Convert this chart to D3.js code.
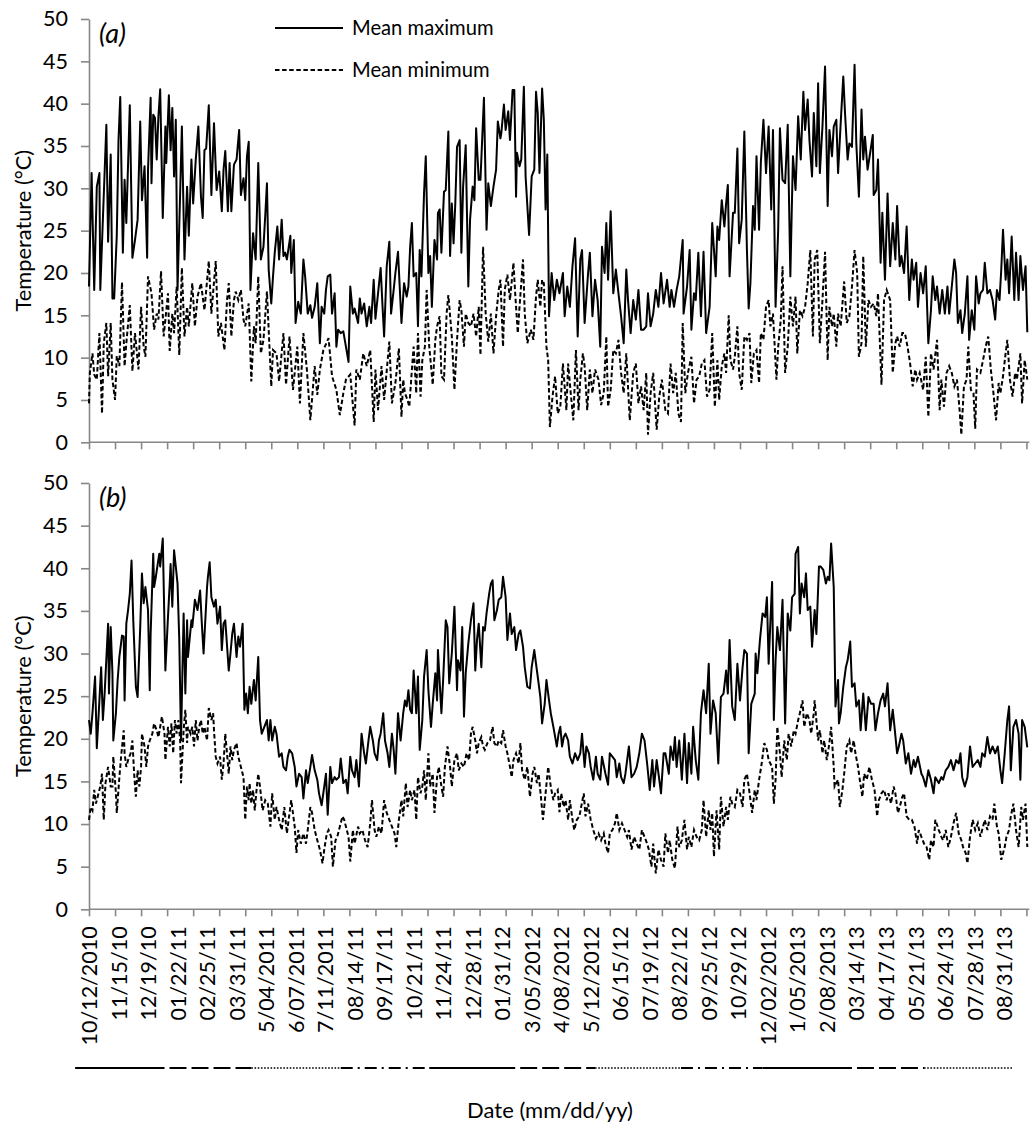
<!DOCTYPE html>
<html>
<head>
<meta charset="utf-8">
<script src="https://cdn.jsdelivr.net/npm/d3@7"></script>
<style>
  body { margin: 0; background: #fff; }
  svg text { font-family: Lato, "Open Sans", sans-serif; fill: #000; }
</style>
</head>
<body>
<svg id="chart" width="1030" height="1128"></svg>
<script>
// day offsets counted from 10/12/2010, values in deg C
const maxA = [[0,18.4],[3,31.8],[6,18],[9,30.2],[12,31.8],[13,18],[20,37.5],[22,23.7],[25,34],[27,17],[29,17],[32,24.4],[34,35.7],[36,40.8],[39,22.4],[41,31],[43,25.9],[47,39.8],[50,21.8],[53,23.9],[56,26.3],[59,37.9],[61,28.6],[64,32.6],[67,21.8],[68,32.2],[71,40.7],[72,30.6],[74,38.7],[76,38.3],[78,33.4],[80,38.5],[82,41.7],[85,26.5],[88,37.3],[89,33],[92,41],[94,34.5],[96,39.5],[98,31.4],[100,38.1],[102,18],[105,29.4],[107,37.3],[110,21.6],[113,30.2],[115,24.4],[118,33.4],[120,28.2],[123,33.4],[126,37.3],[129,29],[131,26.5],[133,34.5],[135,34.7],[138,39.8],[141,29.2],[144,37.7],[147,29.8],[150,32],[153,27.3],[155,32.2],[157,34.4],[160,27.3],[162,33],[164,27.3],[167,32.8],[170,33.4],[173,36.9],[175,29.2],[178,31.2],[180,28.6],[182,33.8],[184,35.5],[186,18],[189,24.7],[192,21.6],[195,33],[198,21.6],[201,23.1],[203,26.7],[205,30.6],[207,20.4],[210,16.4],[212,19.6],[214,22.4],[217,25.5],[219,21.6],[222,26.3],[224,22],[226,22.4],[228,21.6],[232,24.4],[233,20],[236,23.9],[238,14.1],[241,16.6],[244,15.2],[247,21.6],[249,19.6],[252,15.2],[255,16.2],[257,14.7],[260,16],[263,18.8],[266,11.7],[268,16],[271,15.2],[273,18],[275,19.6],[278,19.8],[280,15.2],[283,17.6],[285,11.3],[287,13.3],[290,12.9],[293,13.1],[296,11.3],[299,9.5],[301,18.4],[304,15.2],[306,15.8],[310,14.1],[312,17],[314,15.2],[317,16.4],[320,13.7],[323,16],[325,14.1],[328,19.2],[330,14.6],[333,17.6],[336,20.6],[338,16.4],[340,12.5],[343,20.8],[346,23.7],[348,15.2],[351,18],[353,20],[356,22.5],
  [360,14.1],[363,18.8],[366,17.2],[368,18.4],[370,23.1],[372,25.9],[374,19.6],[377,20],[379,13.7],[381,22.7],[383,19.6],[386,29.4],[388,33.8],[391,20],[393,22],[395,16],[398,23.9],[401,21.6],[402,27.1],[404,27.5],[406,22.4],[409,29.6],[411,29.8],[414,36.7],[416,22],[418,28.2],[420,23.5],[422,28.2],[424,34.9],[427,35.7],[429,22.4],[431,30.2],[434,35.1],[437,18.4],[439,26.3],[442,30.2],[444,28.6],[446,37.1],[449,31],[451,31],[455,40.7],[458,25.1],[460,30.6],[463,27.9],[466,30.2],[469,32.2],[471,37.9],[474,35.9],[475,36.5],[478,39.9],[480,36.9],[483,39.1],[485,35.7],[488,41.6],[490,41.6],[492,29],[493,34.2],[496,32.6],[498,33.4],[501,42],[503,31.4],[507,24.5],[510,31.4],[513,32.2],[515,41.4],[517,38.9],[519,31.8],[522,41.8],[524,38.1],[526,27.5],[528,34],[530,14.9],[533,20],[536,16.8],[539,19.2],[542,17.6],[546,20],[548,14.9],[551,18.4],[554,16],[557,20.8],[560,24.1],[563,12.5],[566,21.6],[568,22.7],[571,14.1],[575,20],[577,22.4],[580,14.9],[583,19.2],[586,16.8],[589,11.3],[591,23.1],[594,20],[596,25.9],[598,19.2],[601,27.3],[604,17.6],[607,20.4],[610,17.6],[613,14.9],[616,11.7],[619,20.4],[621,16.8],[624,12.9],[627,16.8],[630,14.5],[633,18],[636,13.3],[639,13.3],[642,13.7],[644,17.6],[647,13.7],[650,15.2],[653,18],[656,16],[659,20],[662,16.4],[666,19.2],[669,16],[671,18],[674,16],[677,18],[680,19.6],[684,23.9],[685,15.2],[689,18.4],[692,22.7],[694,13.3],[697,17.6],[699,16.8],[702,22.4],[705,14.9],[708,22.5],[711,12.9],
  [715,16],[718,25.9],[722,19.6],[724,25.5],[726,23.9],[729,28.6],[732,25.5],[734,28.2],[736,30.4],[738,19.6],[742,27.1],[744,27.1],[747,34.7],[749,23.5],[752,26.3],[755,36.7],[758,22.7],[760,15.8],[762,18.8],[765,27.9],[767,25.1],[769,33.8],[772,25.1],[774,33],[777,38.1],[780,31.8],[783,37.3],[786,27.5],[788,36.9],[791,16],[794,25.1],[796,37.1],[799,31],[802,30.6],[805,37.5],[808,19.6],[811,33.8],[814,29.8],[817,38.5],[820,33.4],[823,41.4],[825,36.9],[828,40.5],[830,35.7],[833,31.4],[835,38.9],[838,32.6],[840,42.4],[842,31.8],[845,37.3],[848,44.4],[851,27.9],[853,36.9],[856,33.8],[858,37.3],[861,38.1],[863,31.8],[866,37.7],[869,43.2],[871,38.9],[874,33.4],[876,35.3],[879,34.9],[882,44.6],[884,35.3],[887,29],[890,39.3],[892,33.4],[894,36.1],[897,32.2],[900,34.2],[903,36.3],[904,29.2],[907,29.8],[909,33.4],[912,21.2],[914,27.1],[917,19.2],[920,29.4],[923,20.8],[926,25.9],[929,21.6],[931,27.9],[934,20.8],[936,22],[939,20],[942,25.5],[945,16.8],[948,21.6],[950,19.2],[953,21.2],[955,16],[958,20],[961,17.6],[964,20.8],[967,11.7],[970,15.6],[972,19.6],[975,16.8],[977,18.4],[980,15.2],[983,18],[986,15.2],[989,18.4],[991,15.2],[994,18.4],[997,21.6],[999,20],[1001,14.1],[1004,15.6],[1006,12.9],[1009,15.2],[1012,19.6],[1014,12.1],[1017,15.6],[1020,13.3],[1022,19.6],[1025,16.4],[1027,17.6],[1030,18],[1032,21.2],[1035,17.6],[1038,18],[1041,16.8],[1044,14.5],[1046,18],[1049,16.8],[1051,20.4],[1053,25.1],[1056,19.2],[1058,21.6],[1060,17.6],[1063,24.3],[1066,16.8],[1068,22.4],[1071,16.8],[1073,22],[1076,18],[1079,20.8],[1081,13]];

const minA = [[0,4.6],[1,8.2],[4,10.5],[6,8],[9,7.4],[12,12.9],[15,3.4],[17,11.7],[20,14.1],[22,7.8],[25,14.1],[27,7.4],[30,5],[32,10.2],[35,9],[38,18.9],[41,9],[43,11.7],[47,16.2],[50,8.4],[53,12.9],[57,8.6],[60,16],[63,11.3],[65,10.1],[68,19.6],[72,17.6],[75,13.3],[78,15.2],[80,14.5],[83,20.2],[86,12.5],[88,14.5],[91,17.6],[93,10.8],[96,15.2],[98,12.9],[101,18.4],[104,10.3],[107,20.6],[110,12.5],[113,16],[115,13.7],[119,18.8],[122,13.7],[125,17.2],[129,18.8],[133,15.6],[138,21.4],[141,15.2],[146,21.4],[149,12.5],[152,14.1],[156,10.9],[159,16.8],[161,18.8],[164,12.5],[167,16.8],[169,17.8],[172,16.8],[175,18],[178,14.5],[180,13.7],[184,16.4],[187,7.2],[190,13.7],[192,11.7],[195,19.6],[198,10.5],[201,12.1],[205,17.8],[210,6.6],[212,10.9],[216,10.5],[219,7.2],[224,12.9],[227,6.8],[231,12.5],[235,6.2],[240,11.3],[243,4.6],[247,12.9],[251,8.6],[255,2.6],[260,9],[263,5.6],[266,8.6],[270,10.9],[276,12.3],[280,7.8],[285,6.2],[289,3.2],[293,5.8],[296,7.4],[301,8],[306,2],[308,8.6],[312,7.4],[316,10.5],[320,9],[324,10.9],[328,2.4],[330,8.6],[333,3.8],[337,9],[340,5],[346,11.9],[349,4.6],[353,7],[357,11.1],
  [360,3],[362,7.4],[364,5.8],[367,5],[369,4.2],[372,8.6],[374,11.3],[377,5.8],[379,12.9],[382,5.4],[384,9.7],[387,11.3],[389,18],[392,11.3],[396,6.8],[399,12.1],[401,13.7],[404,14.9],[406,7.8],[409,7.4],[412,15.2],[414,17.4],[418,12.5],[421,6.2],[424,12.1],[427,16.8],[429,15.6],[432,11.3],[434,15.2],[437,14.1],[440,13.7],[443,15.2],[446,12.5],[449,16],[451,10.3],[454,23.1],[457,15.2],[460,11.9],[463,15.2],[466,10.5],[469,14.9],[472,18],[474,19.2],[477,11.3],[479,18],[482,19.8],[485,16.8],[489,21.2],[491,17.6],[494,12.9],[496,16],[500,21.6],[502,15.2],[505,11.7],[509,13.3],[512,12.1],[515,17.2],[517,19.2],[520,16],[522,19.2],[524,18.8],[527,11.3],[529,9.7],[531,1.8],[534,5.4],[537,7.8],[540,3.4],[543,4.2],[546,9.3],[550,3.8],[552,9.3],[555,5.8],[558,2.6],[561,10.9],[564,3.8],[566,7.4],[569,10.5],[571,9],[574,3.8],[577,8.6],[580,5.8],[583,8.6],[587,7.4],[590,4.4],[593,5.8],[596,12.5],[598,4.2],[601,6.2],[604,10.9],[607,10.5],[610,12.1],[613,8.2],[616,5.8],[619,10.5],[623,2.6],[627,8.2],[630,9.3],[633,4.6],[636,6.6],[639,3.8],[642,8.2],[644,0.9],[647,5.8],[650,8.2],[654,1.5],[657,5.4],[660,7.4],[664,3.8],[667,3.4],[670,9.3],[673,5.8],[676,8.2],[679,3.4],[682,2.4],[684,14.1],[687,5.8],[690,8.2],[694,10.1],[697,4.6],[700,7.4],[703,7.8],[706,9.3],[709,9.7],[712,5.4],
  [715,6.2],[718,12.9],[721,4.2],[724,9.7],[726,5],[729,9],[732,10.5],[734,8.2],[737,15],[739,9.7],[742,8.6],[744,10.1],[747,13.7],[749,8.2],[752,6.2],[755,12.5],[758,12.1],[761,12.9],[763,7],[766,10.5],[769,10.9],[772,7],[774,12.9],[777,12.1],[780,16],[783,16.8],[785,13.7],[788,15.2],[792,7.4],[794,11.3],[797,14.5],[799,20.8],[802,8.2],[805,11.3],[808,17.2],[811,13.7],[814,17.2],[816,10.5],[819,15.6],[822,14.9],[825,16],[828,18.8],[831,22.7],[834,12.5],[836,21.6],[839,22.7],[842,11.7],[845,16.8],[848,22.5],[851,9.7],[853,16],[856,13.7],[858,15.2],[861,11.3],[863,15.2],[866,13.7],[870,19],[873,14.1],[876,14.9],[879,18.4],[882,22.7],[885,20],[887,10.1],[890,11.7],[892,22],[895,11.3],[898,16.8],[901,16],[904,16.4],[907,14.9],[909,17.6],[913,6.8],[916,16.8],[919,18],[923,16.8],[926,8.2],[929,11.7],[931,12.5],[934,11.3],[937,12.9],[940,12.9],[943,11.3],[946,9.3],[949,6.6],[952,8.6],[954,7.4],[957,8.2],[961,6.2],[964,10.1],[967,3],[970,10.5],[973,8.6],[977,12.1],[980,3.8],[982,7.4],[985,4.2],[988,8.2],[991,9],[994,8.2],[997,6.6],[1000,7.4],[1003,3.8],[1005,0.9],[1008,6.6],[1011,7.4],[1013,11.3],[1016,6.2],[1019,5.8],[1021,1.6],[1023,8.6],[1027,8.2],[1030,9.7],[1033,11.3],[1036,12.5],[1039,8.6],[1042,5.8],[1045,2.6],[1048,7],[1050,5.8],[1053,7.8],[1056,10.5],[1058,12.1],[1061,7.4],[1064,5.4],[1067,8.2],[1069,7.4],[1073,10.5],[1075,4.6],[1078,9.7],[1081,7.4]];

const maxB = [[0,22.2],[2,20.6],[4,23],[7,27.3],[9,18.9],[12,24.5],[14,28.4],[16,22.2],[18,25.3],[22,33.5],[23,25.3],[25,33.1],[27,27.7],[28,19.8],[31,23],[33,26.9],[35,29.6],[38,32.1],[40,32],[41,24.5],[43,33.5],[45,35.1],[47,37],[49,40.9],[51,33.9],[54,26.1],[56,24.9],[59,33.1],[61,39.4],[63,35.9],[65,37.8],[68,35.1],[70,25.7],[71,32.3],[74,41.7],[75,37.8],[77,39],[79,40.4],[81,41.7],[82,40.2],[85,43.5],[87,33.1],[88,28],[91,34.3],[93,38.2],[94,40.5],[96,35.5],[98,42.1],[100,40.2],[102,38.2],[104,31.6],[106,19.8],[109,34.7],[111,25.3],[113,33.9],[114,29.6],[118,33.9],[119,33.1],[122,36.3],[125,35.1],[128,37.4],[130,33.5],[132,30],[136,37.8],[137,39],[139,40.7],[141,36.6],[144,35.5],[146,36.3],[148,33.5],[151,35.5],[153,30.4],[155,33.5],[157,33.9],[161,28],[163,30],[165,32.3],[167,33.5],[170,29.6],[172,32],[174,30.8],[177,33.5],[179,23.4],[181,25.3],[183,23],[185,26.1],[187,24.1],[190,26.9],[192,24.5],[195,29.6],[197,22.2],[199,20.6],[202,21.4],[205,22.2],[207,19.8],[209,22.2],[211,19.8],[214,21.4],[216,20.6],[219,17.9],[222,18.3],[224,16.7],[227,16.3],[229,17.9],[231,18.7],[234,18.3],[237,16.7],[239,14.4],[242,15.9],[245,15.5],[247,13],[250,16.3],[252,14.8],[255,16.7],[257,18.1],[260,16.3],[263,15.2],[265,13.6],[268,12.2],[271,14.4],[273,15.9],[275,11.1],[278,16.7],[280,14.8],[283,15.5],[285,15.2],[288,15.5],[290,17.7],[293,14.8],[296,15.2],[298,13.6],[301,17.9],[303,16.3],[306,15.5],[308,17.5],[311,14.4],[314,20.6],[317,18.3],[319,17.1],[322,19.8],[324,21.4],[327,19.8],[329,18.3],[332,17.5],[334,19.8],[336,20.6],[339,23],[341,19.8],[344,18.3],[346,16.7],[349,20.6],[351,18.7],[353,15.9],[356,23],[359,19.8],[362,23],[364,24.5],[366,23.8],[368,25.7],[370,23.4],[372,23],[374,28],[376,24.9],[377,23],[379,27.3],[381,18.7],[384,22.2],[386,27.3],[389,30.4],[391,25.7],[394,21.4],[396,24.1],[399,27.7],[401,24.5],[402,30.4],[406,23],[408,26.9],[411,33.9],[413,33.1],[415,26.5],[418,30],[421,35.5],[424,25.7],[425,29.2],[428,28],[430,33.1],[432,22.6],[434,27.7],[437,31.2],[440,33.9],[443,35.9],[445,28],[447,31.6],[449,33.5],[452,28.4],[454,33.1],[456,32.7],[458,34.7],[461,37],[463,38.2],[465,38.6],[467,33.9],[470,35.1],[472,36.3],[475,36.6],[477,39],[480,36.6],[482,31.6],[485,34.7],[487,32.3],[490,33.1],[492,30.4],[495,32.3],[497,32.7],[500,30.8],[502,28.4],[505,26.1],[508,25.9],[510,28.4],[513,30.4],[515,28.8],[518,26.5],[520,24.9],[522,21.8],[525,24.1],[527,26.9],[530,24.5],[532,23],[535,21.4],
  [539,19.1],[541,20.6],[543,21.4],[545,19.1],[547,20.2],[549,20.6],[552,19.8],[554,17.9],[557,17.1],[560,18.3],[563,17.5],[566,18.3],[568,20.6],[571,16.7],[573,19.1],[576,18.3],[578,16.7],[581,15.2],[584,17.9],[586,15.9],[589,15.2],[591,17.9],[595,15.9],[598,14.6],[600,18.3],[603,17.9],[606,17.5],[608,15.5],[611,17.1],[613,15.5],[616,14.8],[618,15.9],[622,19.1],[625,15.5],[628,15.9],[631,16.7],[634,18.3],[637,20.6],[640,19.8],[643,17.1],[646,14],[649,17.5],[651,14.4],[654,17.5],[657,15.2],[659,13.6],[662,18.3],[664,18.3],[668,15.9],[670,19.1],[673,17.5],[675,20.2],[677,16.7],[680,19.8],[683,15.2],[686,20.6],[689,14.8],[691,19.5],[694,15.9],[696,21.4],[699,17.5],[702,15.2],[705,23],[708,25.7],[711,23],[714,28.8],[716,20.6],[719,24.5],[722,23],[725,17.1],[728,24.9],[731,25.3],[734,28],[736,25.3],[738,31.6],[741,23.8],[744,22.2],[747,28.8],[750,24.5],[753,28.4],[755,30.4],[758,30],[760,18.3],[763,24.1],[767,25.3],[768,30],[770,27.7],[773,31.6],[776,34.7],[779,34.3],[781,36.6],[783,28.8],[787,38.4],[789,22.2],[791,29.2],[793,33.1],[796,30.4],[799,36.3],[802,21.8],[805,34.7],[808,32.7],[810,36.6],[813,37],[814,41.7],[817,42.5],[819,34.7],[821,38.2],[824,36.6],[826,39.4],[828,35.1],[831,35.5],[833,30.8],[836,35.1],[838,32.3],[841,40.2],[843,40.2],[846,39.8],[849,38.2],[851,39],[853,38.6],[855,42.9],[858,37.8],[860,23.8],[863,26.9],[864,21.8],[866,23],[869,26.1],[872,28.4],[874,29.2],[877,31.4],[879,26.1],[882,26.5],[884,23.8],[887,24.5],[889,21],[892,25.3],[895,21],[898,24.9],[901,24.1],[904,24.1],[906,21],[909,23],[912,24.5],[915,25.3],[917,23.8],[920,26.5],[923,21],[926,23.4],[928,21.4],[931,18.3],[933,19.1],[936,20.6],[938,19.8],[941,17.1],[944,18.3],[947,15.9],[950,17.5],[952,16.7],[955,17.9],[959,15.9],[961,15.5],[964,14.4],[967,16.3],[970,15.2],[973,13.6],[975,15.5],[979,14.8],[982,15.5],[984,15.2],[987,16.3],[990,16.7],[993,17.5],[996,16.3],[999,17.5],[1002,17.1],[1004,18.3],[1006,15.5],[1009,14.4],[1012,15.5],[1015,19.1],[1018,16.7],[1021,17.1],[1024,17.5],[1027,16.7],[1029,18.3],[1032,17.9],[1035,20.2],[1038,18.3],[1041,19.1],[1044,18.3],[1047,19.1],[1050,16.3],[1052,14.8],[1055,18.3],[1058,22.2],[1060,23.8],[1062,16.3],[1065,21.4],[1068,22.2],[1071,20.6],[1073,15.2],[1075,22.2],[1078,21.4],[1081,19]];

const minB = [[0,10.5],[2,12],[4,11.6],[6,14],[8,12.4],[11,13.6],[13,14.4],[15,15.9],[17,10.5],[19,14.8],[22,16.7],[25,14.4],[27,14.4],[28,17.9],[31,13.6],[32,11.3],[35,15.5],[37,17.9],[40,21],[41,18.3],[43,16.7],[45,17.5],[48,18.3],[50,19.8],[52,15.9],[54,13.2],[56,16.3],[58,14.4],[60,16.7],[61,20.6],[64,19.1],[66,16.7],[68,19.1],[70,19.8],[73,20.6],[75,21.8],[78,21],[80,20.2],[82,21.4],[84,22.6],[87,20.6],[88,17.5],[91,21.4],[93,19.1],[95,21.8],[97,18.3],[99,22.2],[101,20.6],[103,22.2],[105,19.8],[106,14.8],[109,21],[111,23.4],[113,19.5],[114,21.4],[117,20.6],[119,21.4],[121,19.1],[123,22.2],[125,19.8],[127,21.4],[129,22.2],[131,20.6],[133,21.4],[136,19.8],[138,23.6],[141,22.2],[143,23],[144,21],[146,17.9],[148,17.1],[151,17.9],[153,15.2],[155,17.1],[157,20.6],[159,18.3],[161,15.9],[163,19.1],[165,17.5],[167,18.7],[170,19.5],[172,17.9],[175,16.7],[178,15.5],[180,10.5],[182,14.4],[184,12.8],[185,14.8],[187,12.4],[189,14],[191,11.6],[193,14],[195,15.9],[197,14.4],[200,11.6],[203,12.8],[206,12.4],[209,9.7],[211,13.6],[214,10.5],[216,12],[219,10.5],[222,9.3],[225,12],[228,8.9],[230,10.5],[233,12.8],[237,9.7],[239,6.6],[241,9.3],[244,7.7],[247,8.9],[250,7.7],[252,9.3],[255,12],[257,11.3],[260,9.3],[263,8.1],[266,7],[269,5.4],[271,7],[274,8.9],[276,9.3],[279,8.5],[281,5],[284,8.1],[286,8.5],[289,9.7],[292,10.9],[294,10.5],[297,9.3],[299,8.5],[301,5.6],[304,9.3],[306,7.7],[310,9.7],[312,8.9],[315,9.3],[318,8.1],[321,7.3],[324,10.1],[326,12.8],[329,9.3],[331,8.5],[334,9.7],[337,8.9],[340,12.8],[343,11.3],[346,10.5],[349,9.7],[352,8.9],[354,7.3],[357,10.5],[360,12.8],[362,10.9],[365,14.8],[367,12],[370,14],[372,12.8],[375,14],[377,10.5],[379,15.5],[382,13.6],[384,14.4],[386,16.3],[388,12.8],[391,18.3],[393,14.4],[396,15.9],[398,11.3],[401,15.5],[403,16.7],[406,14.4],[408,13.2],[410,16.7],[413,19.1],[416,16.7],[418,14.4],[421,17.5],[424,18.3],[426,16.3],[429,17.1],[432,16.7],[435,18.3],[438,17.5],[440,20.6],[442,21.4],[445,19.8],[447,18.3],[449,19.5],[452,20.2],[454,19.1],[456,18.7],[459,19.5],[462,19.8],[465,21.4],[467,19.5],[470,19.1],[472,19.8],[475,19.5],[477,21],[480,19.1],[482,18.3],[485,16.7],[487,15.5],[489,17.5],[492,18.3],[495,17.1],[497,19.5],[499,16.3],[502,15.2],[505,16.7],[508,13.2],[511,15.9],[513,16.7],[516,14.8],[518,15.9],[521,12.8],[523,10.5],[526,13.6],[529,16.7],[532,14.4],[535,12.8],
  [537,13.6],[540,14],[542,11.4],[544,13.6],[547,12],[549,12.8],[552,10.5],[554,12.8],[557,10.5],[559,9.3],[562,10.5],[565,10.9],[567,12],[570,13.6],[572,10.9],[575,12.4],[578,10.5],[581,9.3],[584,8.3],[587,8.9],[590,8.1],[593,8.9],[595,7.7],[598,6.6],[600,8.9],[603,9.3],[606,10.1],[608,11.3],[611,9.3],[614,10.1],[617,9.3],[620,8.5],[622,9.3],[625,7],[628,8.5],[631,7.7],[634,7],[637,9.3],[640,8.5],[643,7.7],[645,7],[648,5],[650,7.7],[653,4.2],[656,7],[659,5.8],[662,5],[664,8.9],[667,6.6],[669,8.1],[672,5.8],[675,4.8],[678,9.7],[680,7.3],[683,8.1],[686,10.5],[689,7],[691,8.5],[694,7.3],[697,9.3],[700,8.5],[703,8.1],[706,9.3],[708,12.8],[711,8.5],[714,11.6],[716,9.3],[718,11.3],[720,6.2],[723,11.6],[726,7],[728,13.2],[731,9.7],[734,12],[736,10.5],[739,13.2],[741,12.4],[744,12],[747,14],[750,13.6],[753,12],[755,15.2],[758,15.9],[760,14.4],[764,11.3],[767,14],[769,12.8],[772,15.2],[775,17.1],[778,19.5],[781,18.7],[783,17.5],[787,16.7],[789,12.4],[791,15.2],[793,21.4],[796,18.3],[798,15.5],[801,19.8],[804,17.5],[806,20.6],[809,19.1],[812,21],[814,20.6],[817,22.2],[819,23],[822,24.5],[824,21.4],[827,23],[830,22.2],[832,20.6],[835,23],[836,24.5],[840,19.8],[842,21],[845,18.3],[847,19.8],[850,17.5],[853,19.5],[855,21.4],[858,16.7],[859,14.4],[863,15.2],[865,12],[868,14],[870,15.9],[873,19.1],[876,19.8],[878,18.3],[881,19.8],[883,18.3],[886,16.7],[888,15.2],[891,13.2],[893,15.9],[896,15.2],[899,16.7],[902,15.2],[905,14],[908,10.9],[910,12.8],[913,13.6],[916,14],[919,12.8],[921,13.6],[924,12.4],[927,14.4],[929,13.6],[932,11.3],[934,12],[937,13.2],[939,13.6],[942,10.9],[945,10.5],[948,10.5],[951,9.7],[954,7.7],[956,9.3],[959,8.5],[962,7.7],[965,7.3],[968,5.8],[970,8.1],[973,7.3],[975,10.5],[979,9.3],[982,8.5],[984,8.1],[987,9.3],[990,7.3],[993,8.5],[996,10.1],[999,11.3],[1002,8.9],[1005,8.1],[1007,7.3],[1010,6.6],[1012,5.4],[1015,8.5],[1018,10.5],[1021,9.3],[1024,10.1],[1027,8.5],[1029,9.3],[1032,10.5],[1035,9.3],[1038,10.9],[1041,10.5],[1043,12.4],[1046,9.7],[1048,8.9],[1051,5.8],[1055,7.3],[1057,8.5],[1060,9.3],[1062,10.9],[1065,12.4],[1068,9.3],[1071,7.3],[1074,12],[1076,10.5],[1079,12.4],[1081,7.3]];

// category labels, one every 34 days; tick marks every 30 days
const dateLabels = ['10/12/2010','11/15/10','12/19/10','01/22/11','02/25/11','03/31/11','5/04/2011','6/07/2011','7/11/2011','08/14/11','09/17/11','10/21/11','11/24/11','12/28/11','01/31/12','3/05/2012','4/08/2012','5/12/2012','06/15/12','07/19/12','08/22/12','09/25/12','10/29/12','12/02/2012','1/05/2013','2/08/2013','03/14/13','04/17/13','05/21/13','06/24/13','07/28/13','08/31/13'];
const labelStep = 34;
const tickStep = 30;
const lastDay = 1081;
const yTicks = [0, 5, 10, 15, 20, 25, 30, 35, 40, 45, 50];

// leftover line-style strip under the axis (breaks in day offsets)
const stripDays = [-16, 87, 187, 290, 392, 491, 583, 682, 776, 879, 962, 1064];
const stripStyles = ['solid', 'dash', 'dot', 'dashdot', 'solid', 'dash', 'dot', 'dashdot', 'solid', 'dash', 'dot'];

const svg = d3.select('#chart');
const axisColor = '#878787';
const dashes = {
  solid: { arr: null, off: 0, w: 2 },
  dash: { arr: '17,5', off: 17, w: 2 },
  dot: { arr: '1.6,1.6', off: 0, w: 1.6 },
  dashdot: { arr: '12,5,2,5', off: 0, w: 2 }
};

const x = d3.scaleLinear().domain([0, lastDay]).range([89, 1027.3]);

const panels = [
  { tag: '(a)', top: 19, bottom: 442.3, max: maxA, min: minA, labels: false },
  { tag: '(b)', top: 483, bottom: 909.3, max: maxB, min: minB, labels: true }
];

panels.forEach(p => {
  const y = d3.scaleLinear().domain([0, 50]).range([p.bottom, p.top]);
  const g = svg.append('g');

  // y axis
  const ya = g.append('g')
    .attr('transform', 'translate(' + x(0) + ',0)')
    .call(d3.axisLeft(y).tickValues(yTicks).tickSize(8).tickSizeOuter(0).tickPadding(13));
  ya.select('.domain').attr('stroke', axisColor).attr('stroke-width', 1.6);
  ya.selectAll('.tick line').attr('stroke', axisColor).attr('stroke-width', 1.6);
  ya.selectAll('.tick text').style('font-size', '21.5px').attr('fill', '#000');

  // x axis
  const xa = g.append('g')
    .attr('transform', 'translate(0,' + p.bottom + ')')
    .call(d3.axisBottom(x).tickValues(d3.range(0, lastDay, tickStep)).tickSize(7).tickSizeOuter(0).tickFormat(''));
  xa.select('.domain').attr('stroke', axisColor).attr('stroke-width', 1.6)
    .attr('d', 'M' + x(0) + ',0H' + (x(lastDay) + 2));
  xa.selectAll('.tick line').attr('stroke', axisColor).attr('stroke-width', 1.6);

  if (p.labels) {
    g.append('g').selectAll('text')
      .data(dateLabels)
      .enter().append('text')
      .attr('transform', (d, i) => 'translate(' + x(i * labelStep) + ',' + (p.bottom + 17) + ') rotate(-90)')
      .attr('dy', '0.38em')
      .attr('text-anchor', 'end')
      .style('font-size', '21.5px')
      .text(d => d);
  }

  // series
  const line = d3.line().x(d => x(d[0])).y(d => y(d[1]));
  g.append('path').datum(p.min)
    .attr('fill', 'none').attr('stroke', '#000').attr('stroke-width', 2)
    .attr('stroke-dasharray', '4.5,2.6').attr('d', line);
  g.append('path').datum(p.max)
    .attr('fill', 'none').attr('stroke', '#000').attr('stroke-width', 2)
    .attr('stroke-linejoin', 'round').attr('d', line);

  // panel tag and axis title
  g.append('text')
    .attr('x', 99).attr('y', p.top + 24)
    .style('font-size', '27px').style('font-style', 'italic')
    .text(p.tag);
  g.append('text')
    .attr('transform', 'translate(31,' + ((p.top + p.bottom) / 2) + ') rotate(-90)')
    .attr('text-anchor', 'middle')
    .style('font-size', '21.8px')
    .text('Temperature (°C)');
});

// legend
const legend = [
  { label: 'Mean maximum', dash: null, y: 28 },
  { label: 'Mean minimum', dash: '4.5,2.6', y: 70 }
];
const lg = svg.append('g').selectAll('g').data(legend).enter().append('g');
lg.append('line')
  .attr('x1', 275).attr('x2', 343)
  .attr('y1', d => d.y).attr('y2', d => d.y)
  .attr('stroke', '#000').attr('stroke-width', 2)
  .attr('stroke-dasharray', d => d.dash);
lg.append('text')
  .attr('x', 352).attr('y', d => d.y).attr('dy', '0.35em')
  .style('font-size', '20.2px')
  .text(d => d.label);

// strip of line styles below the labels
const strip = svg.append('g');
stripStyles.forEach((s, i) => {
  strip.append('line')
    .attr('x1', x(stripDays[i])).attr('x2', x(stripDays[i + 1]))
    .attr('y1', 1068).attr('y2', 1068)
    .attr('stroke', '#000')
    .attr('stroke-width', dashes[s].w)
    .attr('stroke-dasharray', dashes[s].arr)
    .attr('stroke-dashoffset', dashes[s].off);
});

// x axis title
svg.append('text')
  .attr('x', 550).attr('y', 1118)
  .attr('text-anchor', 'middle')
  .style('font-size', '22px')
  .text('Date (mm/dd/yy)');
</script>
</body>
</html>
